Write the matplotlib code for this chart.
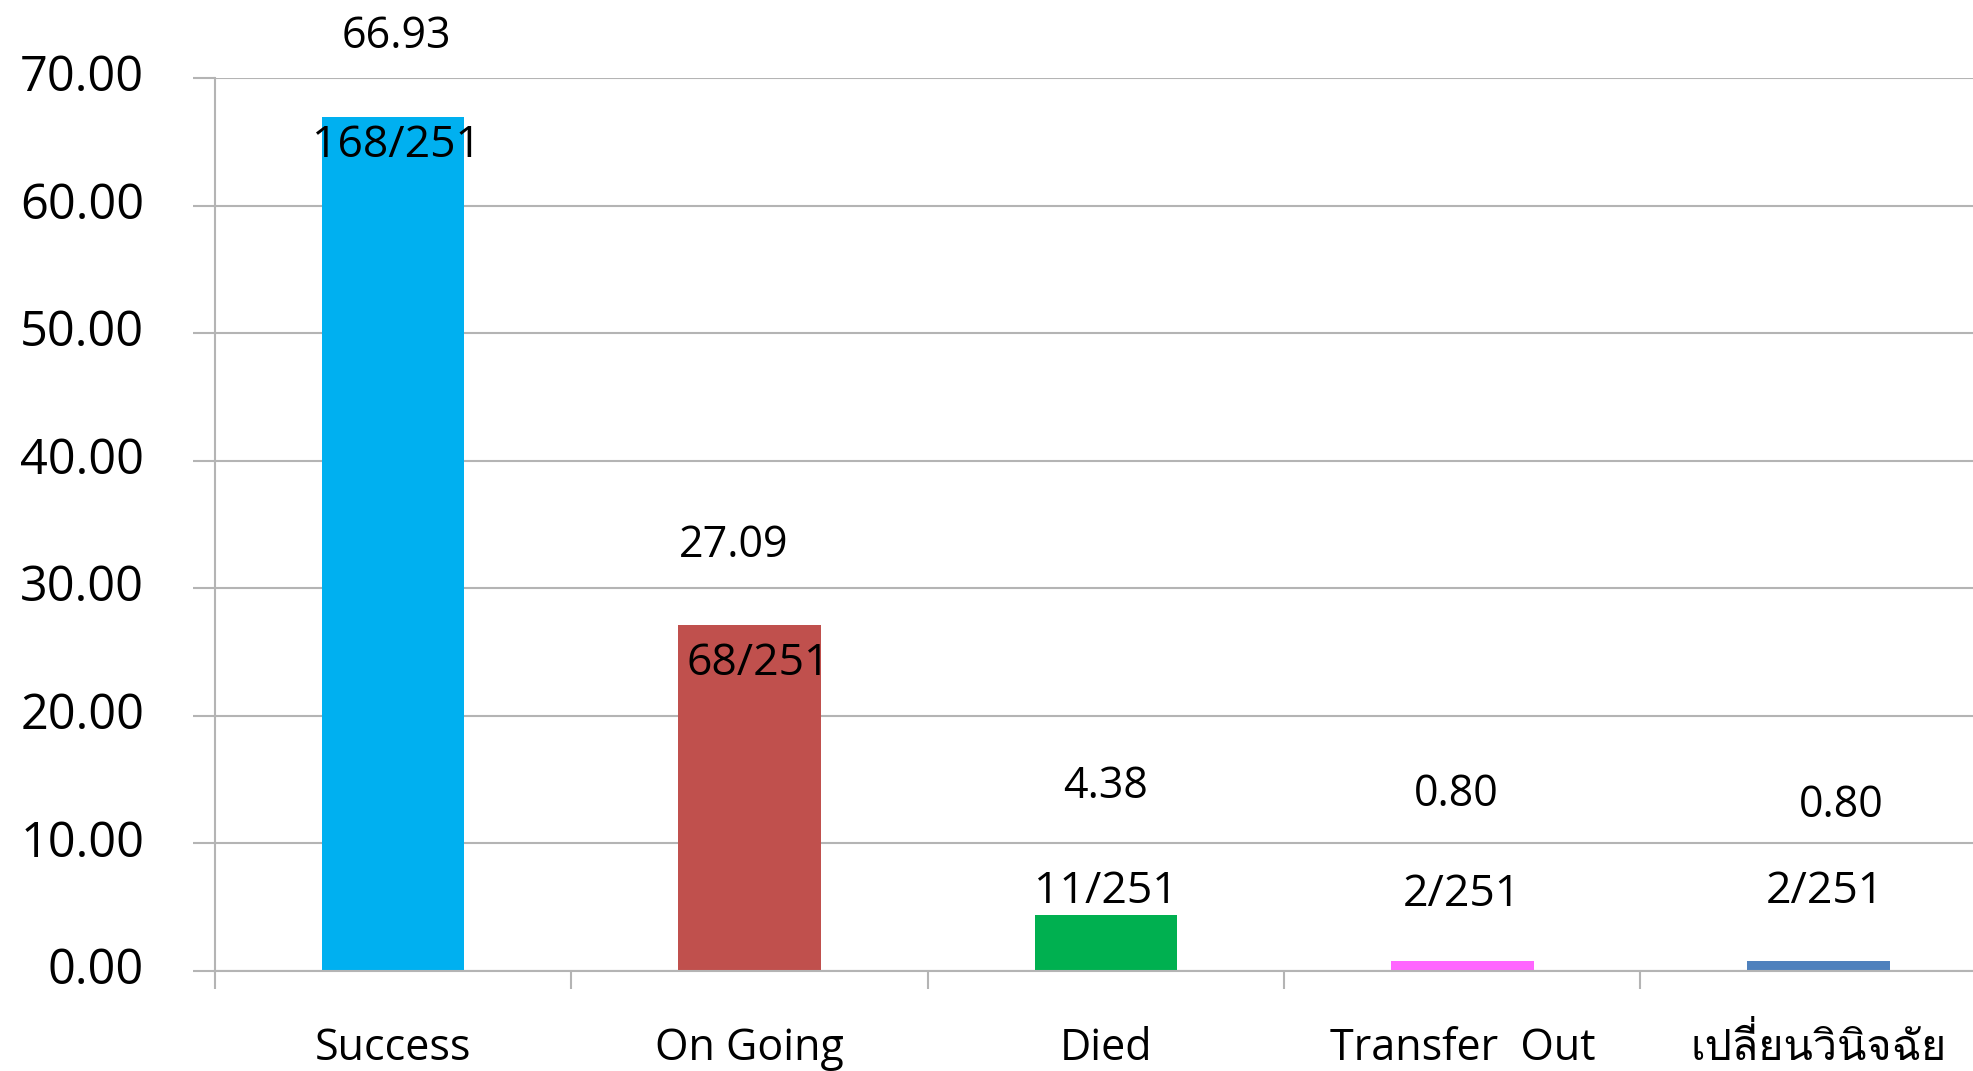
import matplotlib
matplotlib.use("Agg")
from matplotlib import pyplot as plt
from matplotlib import font_manager
from matplotlib.ft2font import FT2Font
from matplotlib.transforms import ScaledTranslation
import numpy as np

# data
categories = ["Success", "On Going", "Died", "Transfer  Out", "เปลี่ยนวินิจฉัย"]
percent = [66.93, 27.09, 4.38, 0.80, 0.80]
counts = ["168/251", "68/251", "11/251", "2/251", "2/251"]
colors = ["#00B0F0", "#C0504D", "#00B050", "#FF66FF", "#4F81BD"]

# label placement (data units), as placed by hand in the original
pct_label_y = [73.25, 33.3, 14.45, 13.85, 12.95]
pct_label_dx = [0.01, -0.046, 0.0, -0.018, 0.064]
cnt_label_y = [64.7, 24.1, 6.25, 5.95, 6.25]
cnt_label_dx = [0.01, 0.025, 0.0, 0.0, 0.018]

# find a font that has Thai glyphs for the last category
thai_fonts = []
for f in font_manager.fontManager.ttflist:
    try:
        if 0x0E40 in FT2Font(f.fname).get_charmap() and f.name not in thai_fonts:
            thai_fonts.append(f.name)
    except Exception:
        pass

plt.rcParams['font.family'] = ["Open Sans"] + thai_fonts + ["DejaVu Sans"]

fig = plt.figure(figsize=(19.74, 10.71), dpi=100)
ax = fig.add_axes([215 / 1974, 100 / 1071, 1 - 215 / 1974, 893 / 1071])

x = np.arange(len(categories))
ax.bar(x, percent, width=0.40, color=colors, zorder=2)

grid_col = "#B4B4B4"
ax.set_yticks(np.arange(0, 71, 10))
ax.set_yticklabels(["%.2f" % v for v in np.arange(0, 71, 10)], fontsize=35)
ax.yaxis.grid(True, color=grid_col, linewidth=1.5, zorder=0)
ax.set_axisbelow(True)
ax.tick_params(axis="y", length=16, width=1.5, color=grid_col, pad=35)
# nudge y labels up a little, as in the original
for lab in ax.get_yticklabels():
    lab.set_transform(lab.get_transform() + ScaledTranslation(0, 4 / 72, fig.dpi_scale_trans))

# category boundaries as major ticks, names as minor ticks
ax.set_xticks(np.arange(-0.5, 5, 1.0))
ax.set_xticklabels([])
ax.set_xticks(x, minor=True)
ax.set_xticklabels(categories, minor=True, fontsize=31)
ax.tick_params(axis="x", which="major", length=13, width=1.5, color=grid_col)
ax.tick_params(axis="x", which="minor", length=0, pad=40)

ax.set_ylim(0, 70)
ax.set_xlim(-0.5, 4.436)

for s in ["top", "right"]:
    ax.spines[s].set_visible(False)
for s in ["left", "bottom"]:
    ax.spines[s].set_color(grid_col)
    ax.spines[s].set_linewidth(1.5)
    ax.spines[s].set_zorder(3)

for i in range(len(categories)):
    ax.text(x[i] + pct_label_dx[i], pct_label_y[i], "%.2f" % percent[i],
            ha="center", va="center", fontsize=31, clip_on=False)
    ax.text(x[i] + cnt_label_dx[i], cnt_label_y[i], counts[i],
            ha="center", va="center", fontsize=32, zorder=4)

fig.savefig("out.png", dpi=100)
